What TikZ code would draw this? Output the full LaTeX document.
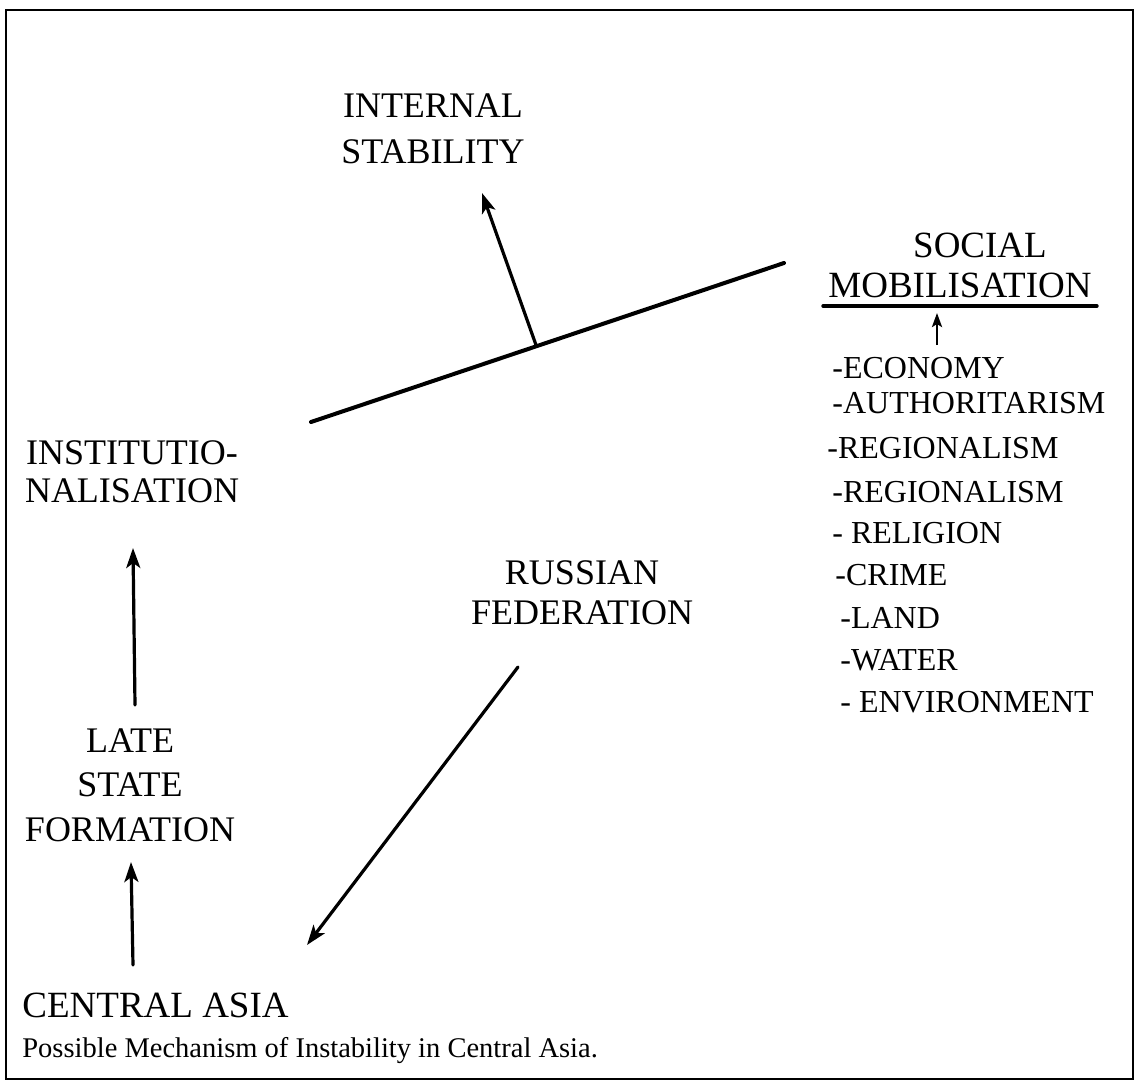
\documentclass[tikz,border=0pt]{standalone}
\usepackage{fontspec}
\setmainfont{Liberation Serif}
\usetikzlibrary{arrows.meta}
\tikzset{
  lbl/.style={inner sep=0pt, align=center, font=\fontsize{18}{23}\selectfont},
  item/.style={inner sep=0pt, anchor=base west, font=\fontsize{16}{19}\selectfont},
  conn/.style={line width=1.6pt, line cap=round, -{Stealth[length=10pt,width=7pt,inset=2.5pt]}},
  bar/.style={line width=2pt, line cap=round},
  frame/.style={line width=1.2pt}
}
\begin{document}
\begin{tikzpicture}[x=0.5pt,y=-0.5pt]
\useasboundingbox (0,0) rectangle (1136,1083);
\draw[frame] (6,10) rectangle (1133,1079);

% labels
\node[lbl, anchor=south, font=\fontsize{18}{23}\selectfont] (internal) at (433,164) {INTERNAL\\STABILITY};
\node[lbl, anchor=base, font=\fontsize{18.5}{20}\selectfont] (social) at (980,257) {SOCIAL};
\node[lbl, anchor=base, font=\fontsize{18.5}{20}\selectfont] (mobil) at (960,297) {MOBILISATION};
\node[lbl, anchor=south, font=\fontsize{18}{19}\selectfont] (inst) at (132,503) {INSTITUTIO-\\NALISATION};
\node[lbl, anchor=south, font=\fontsize{18}{20}\selectfont] (russia) at (582,625) {RUSSIAN\\FEDERATION};
\node[lbl, anchor=south, font=\fontsize{18}{22.25}\selectfont] (late) at (130,842) {LATE\\STATE\\FORMATION};
\node[inner sep=0pt, anchor=base west, font=\fontsize{18.5}{20}\selectfont] (central) at (22,1017) {CENTRAL ASIA};
\node[inner sep=0pt, anchor=base west, font=\fontsize{14.25}{17}\selectfont] (caption) at (22,1057) {Possible Mechanism of Instability in Central Asia.};

% list
\node[item] (i1) at (832,378) {-ECONOMY};
\node[item] (i2) at (832,413) {-AUTHORITARISM};
\node[item] (i3) at (827,458) {-REGIONALISM};
\node[item] (i4) at (832,502) {-REGIONALISM};
\node[item] (i5) at (832,543) {- RELIGION};
\node[item] (i6) at (835,585) {-CRIME};
\node[item] (i7) at (840,628) {-LAND};
\node[item] (i8) at (840,670) {-WATER};
\node[item] (i9) at (840,712) {- ENVIRONMENT};

% underline and small arrow
\coordinate (ulA) at (823,306);
\coordinate (ulB) at (1097,306);
\draw[bar, line width=1.7pt] (ulA) -- (ulB);
\coordinate (smB) at (937,345);
\coordinate (smT) at (937,313);
\draw[line width=1.3pt, -{Stealth[length=7pt,width=5pt,inset=1.5pt]}] (smB) -- (smT);

% slanted line and arrow to internal stability
\coordinate (barA) at (311,422);
\coordinate (barB) at (784,263);
\coordinate (junc) at (536,345);
\coordinate (intTip) at (482,193);
\draw[bar] (barA) -- (barB);
\draw[conn] (junc) -- (intTip);

% left column arrows
\coordinate (lateFoot) at (135,705);
\coordinate (instTip) at (133,548);
\draw[conn] (lateFoot) -- (instTip);
\coordinate (centFoot) at (133,965);
\coordinate (lateTip) at (131,862);
\draw[conn] (centFoot) -- (lateTip);

% russian federation arrow
\coordinate (rusFoot) at (518,667);
\coordinate (rusTip) at (307,945);
\draw[conn] (rusFoot) -- (rusTip);
\end{tikzpicture}
\end{document}
